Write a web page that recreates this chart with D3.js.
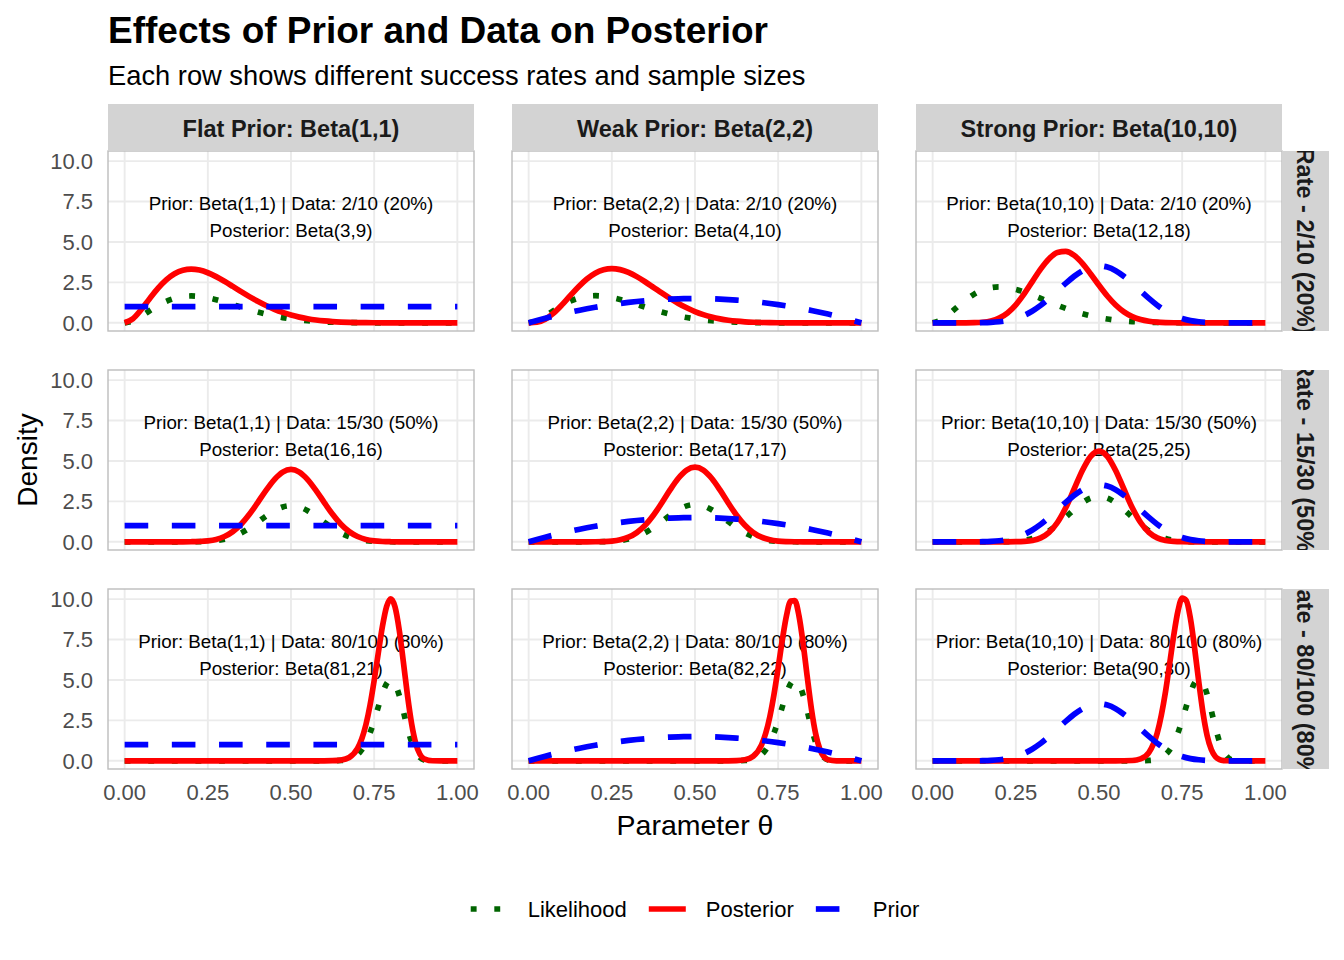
<!DOCTYPE html>
<html><head><meta charset="utf-8">
<script src="https://cdn.jsdelivr.net/npm/d3@7"></script>
<style>body{margin:0;background:#fff}</style>
</head><body><svg id="chart" width="1344" height="960"></svg>
<script>
// ---------------- data ----------------
const thetaWide = [0,0.025,0.05,0.075,0.1,0.125,0.15,0.175,0.2,0.225,0.25,0.275,0.3,0.325,0.35,0.375,0.4,0.425,0.45,0.475,0.5,0.525,0.55,0.575,0.6,0.625,0.65,0.675,0.7,0.725,0.75,0.775,0.8,0.825,0.85,0.875,0.9,0.925,0.95,0.975,1];
const thetaNarrow = [0,0.5,0.55,0.6,0.625,0.65,0.675,0.7,0.7125,0.725,0.7375,0.75,0.7625,0.775,0.7875,0.8,0.8125,0.825,0.8375,0.85,0.8625,0.875,0.8875,0.9,0.925,0.95,1];

const colLabels = ["Flat Prior: Beta(1,1)", "Weak Prior: Beta(2,2)", "Strong Prior: Beta(10,10)"];
const rowLabels = ["Rate - 2/10 (20%)", "Rate - 15/30 (50%)", "Rate - 80/100 (80%)"];
const priorNames = ["Beta(1,1)", "Beta(2,2)", "Beta(10,10)"];
const dataNames = ["2/10 (20%)", "15/30 (50%)", "80/100 (80%)"];
const posteriorNames = [["Beta(3,9)","Beta(4,10)","Beta(12,18)"],["Beta(16,16)","Beta(17,17)","Beta(25,25)"],["Beta(81,21)","Beta(82,22)","Beta(90,30)"]];
const xTicks = [0, 0.25, 0.5, 0.75, 1];
const xTickLabels = ["0.00","0.25","0.50","0.75","1.00"];
const yTicks = [0, 2.5, 5, 7.5, 10];
const yTickLabels = ["0.0","2.5","5.0","7.5","10.0"];
const legendLabels = ["Likelihood", "Posterior", "Prior"];

// priors (same in every row)
const priorFlat = [1,1,1,1,1,1,1,1,1,1,1,1,1,1,1,1,1,1,1,1,1,1,1,1,1,1,1,1,1,1,1,1,1,1,1,1,1,1,1,1,1];
const priorWeak = [0,0.146,0.285,0.416,0.54,0.656,0.765,0.866,0.96,1.046,1.125,1.196,1.26,1.316,1.365,1.406,1.44,1.466,1.485,1.496,1.5,1.496,1.485,1.466,1.44,1.406,1.365,1.316,1.26,1.196,1.125,1.046,0.96,0.866,0.765,0.656,0.54,0.416,0.285,0.146,0];
const priorStrong = [0,0,0,0,0.0004,0.002,0.008,0.025,0.064,0.138,0.265,0.46,0.734,1.087,1.508,1.972,2.441,2.871,3.219,3.446,3.524,3.446,3.219,2.871,2.441,1.972,1.508,1.087,0.734,0.46,0.265,0.138,0.064,0.025,0.008,0.002,0.0004,0,0,0,0];

// row 1: 2/10 (wide grid)
const post11 = [0,0.253,0.821,1.492,2.131,2.658,3.035,3.253,3.322,3.262,3.097,2.858,2.568,2.253,1.932,1.621,1.33,1.068,0.839,0.644,0.483,0.353,0.252,0.174,0.117,0.075,0.047,0.028,0.016,0.009,0.004,0.002,0.001,0,0,0,0,0,0,0,0];
const post12 = [0,0.036,0.225,0.598,1.108,1.679,2.235,2.713,3.071,3.285,3.355,3.291,3.116,2.856,2.54,2.195,1.845,1.509,1.2,0.929,0.698,0.509,0.36,0.246,0.162,0.102,0.062,0.036,0.019,0.01,0.005,0.002,0.001,0,0,0,0,0,0,0,0];
const post13 = [0,0,0,0,0.001,0.007,0.034,0.112,0.287,0.612,1.116,1.79,2.566,3.336,3.968,4.352,4.421,4.178,3.68,3.024,2.32,1.659,1.104,0.681,0.388,0.203,0.097,0.042,0.016,0.005,0.002,0,0,0,0,0,0,0,0,0,0];
const lik11 = [0,0.126,0.411,0.746,1.065,1.329,1.517,1.627,1.661,1.631,1.549,1.429,1.284,1.126,0.966,0.81,0.665,0.534,0.42,0.322,0.242,0.177,0.126,0.087,0.058,0.038,0.024,0.014,0.008,0.004,0.002,0.001,0,0,0,0,0,0,0,0,0];
const lik12 = [0,0.128,0.415,0.754,1.076,1.342,1.533,1.643,1.678,1.647,1.565,1.443,1.297,1.138,0.976,0.819,0.672,0.54,0.424,0.326,0.244,0.179,0.127,0.088,0.059,0.038,0.024,0.014,0.008,0.004,0.002,0.001,0,0,0,0,0,0,0,0,0];
const lik13 = [0,0.169,0.548,0.996,1.422,1.774,2.025,2.171,2.217,2.177,2.067,1.907,1.714,1.504,1.29,1.082,0.888,0.713,0.56,0.43,0.323,0.236,0.168,0.116,0.078,0.05,0.031,0.019,0.011,0.006,0.003,0.001,0.001,0,0,0,0,0,0,0,0];

// row 2: 15/30 (wide grid)
const post21 = [0,0,0,0,0,0,0.0002,0.0012,0.0055,0.02,0.06,0.15,0.328,0.631,1.088,1.701,2.428,3.183,3.851,4.313,4.478,4.313,3.851,3.183,2.428,1.701,1.088,0.631,0.328,0.15,0.06,0.02,0.0055,0.0012,0.0002,0,0,0,0,0,0];
const post22 = [0,0,0,0,0,0,0.0001,0.0007,0.0037,0.0145,0.046,0.124,0.284,0.571,1.021,1.644,2.403,3.209,3.932,4.437,4.618,4.437,3.932,3.209,2.403,1.644,1.021,0.571,0.284,0.124,0.046,0.0145,0.0037,0.0007,0.0001,0,0,0,0,0,0];
const post23 = [0,0,0,0,0,0,0,0,0.0001,0.001,0.006,0.025,0.086,0.244,0.584,1.193,2.108,3.251,4.411,5.287,5.614,5.287,4.411,3.251,2.108,1.193,0.584,0.244,0.086,0.025,0.006,0.001,0.0001,0,0,0,0,0,0,0,0];
const lik21 = [0,0,0,0,0,0,0.0001,0.0006,0.003,0.01,0.03,0.075,0.164,0.315,0.544,0.85,1.214,1.592,1.926,2.157,2.239,2.157,1.926,1.592,1.214,0.85,0.544,0.315,0.164,0.075,0.03,0.01,0.003,0.0006,0.0001,0,0,0,0,0,0];
const lik22 = [0,0,0,0,0,0,0.0001,0.0006,0.003,0.01,0.031,0.078,0.169,0.325,0.561,0.877,1.252,1.641,1.986,2.224,2.309,2.224,1.986,1.641,1.252,0.877,0.561,0.325,0.169,0.078,0.031,0.01,0.003,0.0006,0.0001,0,0,0,0,0,0];
const lik23 = [0,0,0,0,0,0,0.0001,0.0007,0.0035,0.013,0.038,0.094,0.205,0.395,0.682,1.066,1.522,1.995,2.414,2.704,2.807,2.704,2.414,1.995,1.522,1.066,0.682,0.395,0.205,0.094,0.038,0.013,0.0035,0.0007,0.0001,0,0,0,0,0,0];

// row 3: 80/100 (narrow grid)
const post31 = [0,0,0,0.001,0.008,0.044,0.207,0.765,1.345,2.222,3.441,4.975,6.691,8.334,9.556,10.02,9.527,8.131,6.151,4.059,2.29,1.076,0.407,0.118,0.003,0,0];
const post32 = [0,0,0,0.002,0.011,0.062,0.28,0.992,1.701,2.736,4.114,5.761,7.484,8.976,9.877,9.902,8.964,7.251,5.17,3.196,1.677,0.727,0.251,0.066,0.001,0,0];
const post33 = [0,0,0.0003,0.02,0.116,0.512,1.717,4.288,6.031,7.811,9.281,10.063,9.899,8.774,6.946,4.863,2.974,1.565,0.696,0.255,0.075,0.017,0.003,0.0005,0,0,0];
const lik31 = [0,0,0,0.001,0.004,0.022,0.103,0.382,0.672,1.111,1.72,2.488,3.346,4.167,4.778,5.01,4.764,4.066,3.075,2.029,1.145,0.538,0.204,0.059,0.002,0,0];
const lik32 = [0,0,0,0.001,0.004,0.022,0.103,0.382,0.672,1.111,1.72,2.488,3.346,4.167,4.778,5.01,4.764,4.066,3.075,2.029,1.145,0.538,0.204,0.059,0.002,0,0];
const lik33 = [0,0,0,0.001,0.004,0.022,0.104,0.386,0.679,1.122,1.737,2.512,3.379,4.209,4.826,5.06,4.811,4.106,3.106,2.05,1.156,0.544,0.206,0.06,0.002,0,0];

// ---------------- assemble panel table ----------------
const priors = [priorFlat, priorWeak, priorStrong];
const posts = [[post11,post12,post13],[post21,post22,post23],[post31,post32,post33]];
const liks = [[lik11,lik12,lik13],[lik21,lik22,lik23],[lik31,lik32,lik33]];
const rowTheta = [thetaWide, thetaWide, thetaNarrow];
const zip = (xs, ys) => xs.map((t, i) => ({t: t, d: ys[i]}));

const panels = [];
for (let r = 0; r < 3; r++) for (let c = 0; c < 3; c++) {
  panels.push({
    r, c,
    prior: zip(thetaWide, priors[c]),
    post: zip(rowTheta[r], posts[r][c]),
    lik: zip(rowTheta[r], liks[r][c]),
    line1: "Prior: " + priorNames[c] + " | Data: " + dataNames[r],
    line2: "Posterior: " + posteriorNames[r][c]
  });
}

// ---------------- layout ----------------
const FONT = '"Liberation Sans", Arial, Helvetica, sans-serif';
const svg = d3.select("#chart");
svg.append("rect").attr("width", 1344).attr("height", 960).attr("fill", "#ffffff");

const colLeft = [108, 512, 916], rowTop = [151, 370, 589];
const panelW = 366, panelH = 180, stripH = 47, stripW = 47;
const x = d3.scaleLinear().domain([-0.05, 1.05]).range([0, panelW]);
const y = d3.scaleLinear().domain([-0.506, 10.626]).range([panelH, 0]);
const line = d3.line().x(p => x(p.t)).y(p => y(p.d)).curve(d3.curveMonotoneX);

const LW = 5.7;
const styles = {
  lik:   {stroke: "#006400", dash: "5.9,17.7"},
  post:  {stroke: "#FF0000", dash: null},
  prior: {stroke: "#0000FF", dash: "23.6,23.6"}
};

panels.forEach(p => {
  const g = svg.append("g").attr("transform", `translate(${colLeft[p.c]},${rowTop[p.r]})`);
  // grid
  g.selectAll(".gx").data(xTicks).join("line")
    .attr("x1", d => x(d)).attr("x2", d => x(d)).attr("y1", 0).attr("y2", panelH)
    .attr("stroke", "#EBEBEB").attr("stroke-width", 1.9);
  g.selectAll(".gy").data(yTicks).join("line")
    .attr("x1", 0).attr("x2", panelW).attr("y1", d => y(d)).attr("y2", d => y(d))
    .attr("stroke", "#EBEBEB").attr("stroke-width", 1.9);
  // annotation
  const yc = y(6.56);
  const t = g.append("text").attr("font-family", FONT).attr("font-size", 18.8)
    .attr("fill", "#000").attr("text-anchor", "middle");
  t.append("tspan").attr("x", x(0.5)).attr("y", yc - 6.8).text(p.line1);
  t.append("tspan").attr("x", x(0.5)).attr("y", yc + 20.2).text(p.line2);
  // curves: likelihood, posterior, prior
  ["lik", "post", "prior"].forEach(k => {
    const s = styles[k];
    const path = g.append("path").attr("d", line(p[k])).attr("fill", "none")
      .attr("stroke", s.stroke).attr("stroke-width", LW)
      .attr("stroke-linecap", "butt").attr("stroke-linejoin", "round");
    if (s.dash) path.attr("stroke-dasharray", s.dash);
  });
  // border
  g.append("rect").attr("x", 0).attr("y", 0).attr("width", panelW).attr("height", panelH)
    .attr("fill", "none").attr("stroke", "#BDBDBD").attr("stroke-width", 1.4);
});

// column strips
colLabels.forEach((lab, c) => {
  svg.append("rect").attr("x", colLeft[c]).attr("y", rowTop[0] - stripH)
    .attr("width", panelW).attr("height", stripH).attr("fill", "#D3D3D3");
  svg.append("text").attr("x", colLeft[c] + panelW / 2).attr("y", rowTop[0] - stripH + 33)
    .attr("text-anchor", "middle").attr("font-family", FONT).attr("font-weight", "bold")
    .attr("font-size", 23.5).attr("fill", "#1A1A1A").text(lab);
});

// row strips (clipped)
const defs = svg.append("defs");
const stripX = colLeft[2] + panelW;
rowLabels.forEach((lab, r) => {
  defs.append("clipPath").attr("id", "rclip" + r).append("rect")
    .attr("x", stripX).attr("y", rowTop[r]).attr("width", stripW).attr("height", panelH);
  const g = svg.append("g").attr("clip-path", `url(#rclip${r})`);
  g.append("rect").attr("x", stripX).attr("y", rowTop[r]).attr("width", stripW).attr("height", panelH)
    .attr("fill", "#D3D3D3");
  g.append("text").attr("transform", `translate(${stripX + stripW / 2},${rowTop[r] + panelH / 2}) rotate(90)`)
    .attr("x", 0).attr("y", 8.4).attr("text-anchor", "middle")
    .attr("font-family", FONT).attr("font-weight", "bold").attr("font-size", 23.5)
    .attr("fill", "#1A1A1A").text(lab);
});

// y tick labels (first column)
rowTop.forEach(top => {
  yTicks.forEach((v, i) => {
    svg.append("text").attr("x", colLeft[0] - 15).attr("y", top + y(v)).attr("dy", "0.36em")
      .attr("text-anchor", "end").attr("font-family", FONT).attr("font-size", 22)
      .attr("fill", "#4D4D4D").text(yTickLabels[i]);
  });
});
// x tick labels (bottom row)
colLeft.forEach(left => {
  xTicks.forEach((v, i) => {
    svg.append("text").attr("x", left + x(v)).attr("y", rowTop[2] + panelH + 31)
      .attr("text-anchor", "middle").attr("font-family", FONT).attr("font-size", 22)
      .attr("fill", "#4D4D4D").text(xTickLabels[i]);
  });
});

// axis titles
const plotCenterX = (colLeft[0] + colLeft[2] + panelW) / 2;
svg.append("text").attr("x", plotCenterX).attr("y", 835).attr("text-anchor", "middle")
  .attr("font-family", FONT).attr("font-size", 28.5).attr("fill", "#000").text("Parameter θ");
svg.append("text").attr("transform", `translate(37,${(rowTop[0] + rowTop[2] + panelH) / 2}) rotate(-90)`)
  .attr("text-anchor", "middle").attr("font-family", FONT).attr("font-size", 28)
  .attr("fill", "#000").text("Density");

// title & subtitle
svg.append("text").attr("x", 108).attr("y", 42.5).attr("font-family", FONT).attr("font-weight", "bold")
  .attr("font-size", 37).attr("fill", "#000").text("Effects of Prior and Data on Posterior");
svg.append("text").attr("x", 108).attr("y", 85).attr("font-family", FONT)
  .attr("font-size", 27.3).attr("fill", "#000").text("Each row shows different success rates and sample sizes");

// legend
const legY = 909, keyW = 37, textOff = 57, itemGap = 22;
const legendKeys = ["lik", "post", "prior"];
const lg = svg.append("g");
let cx = 0;
legendLabels.forEach((lab, i) => {
  const s = styles[legendKeys[i]];
  const k = lg.append("line").attr("x1", cx).attr("x2", cx + keyW).attr("y1", legY).attr("y2", legY)
    .attr("stroke", s.stroke).attr("stroke-width", LW).attr("stroke-linecap", "butt");
  if (s.dash) k.attr("stroke-dasharray", s.dash);
  const tx = lg.append("text").attr("x", cx + textOff).attr("y", legY).attr("dy", "0.36em")
    .attr("font-family", FONT).attr("font-size", 22).attr("fill", "#000").text(lab);
  cx += textOff + tx.node().getComputedTextLength() + itemGap;
});
const legW = cx - itemGap;
lg.attr("transform", `translate(${plotCenterX - legW / 2},0)`);
</script>
</body></html>
